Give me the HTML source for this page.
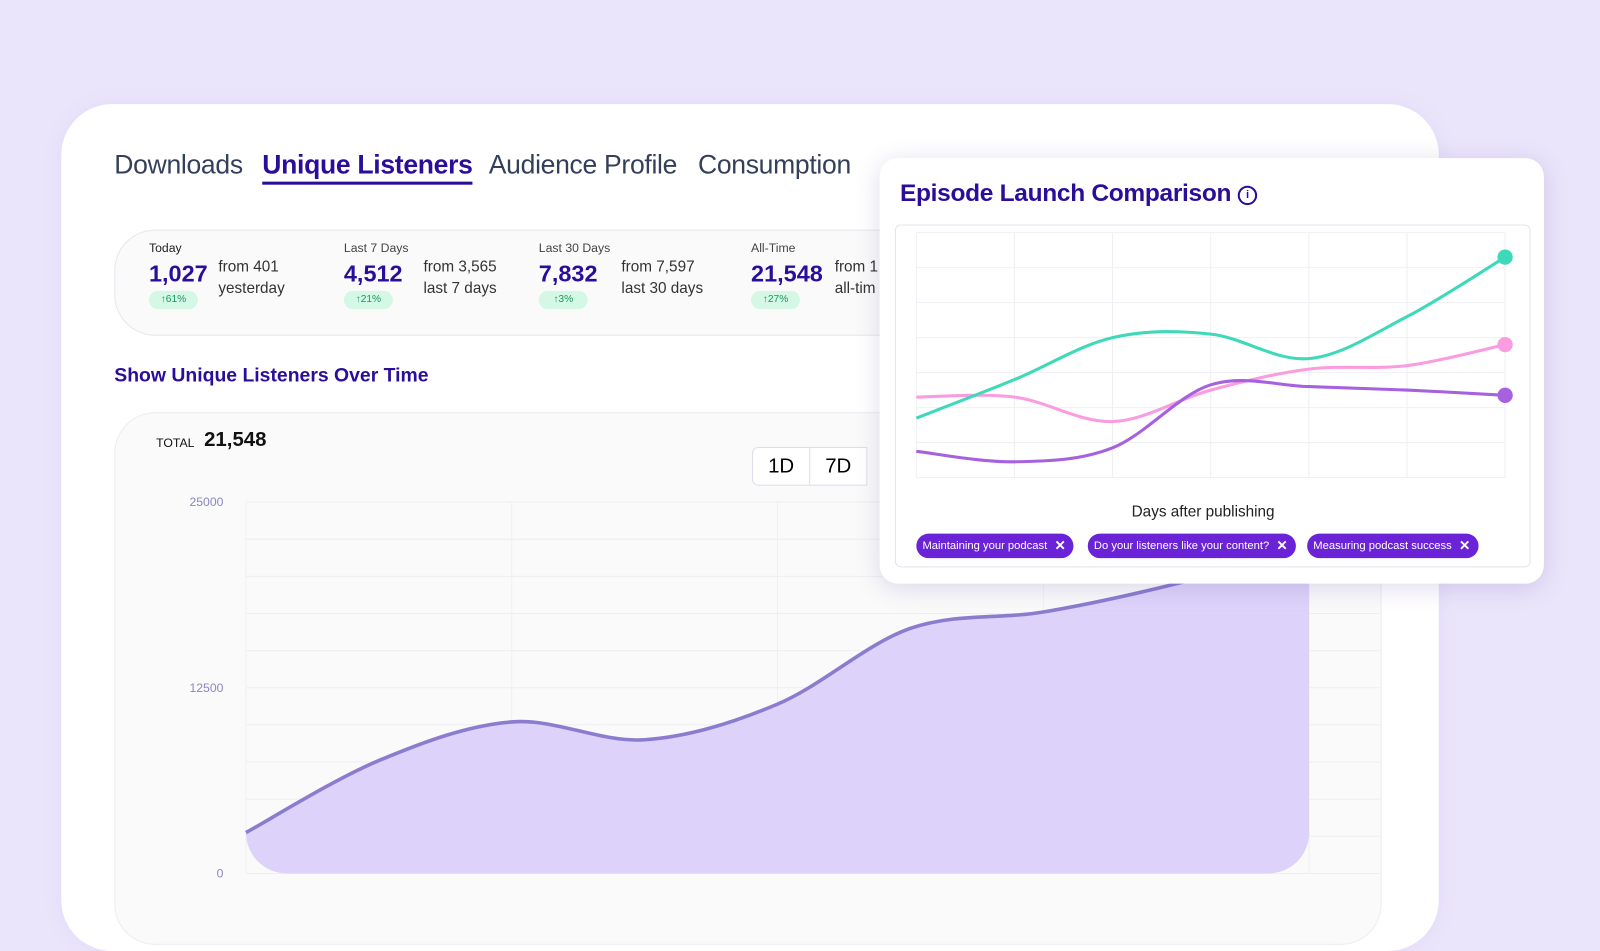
<!DOCTYPE html>
<html><head><meta charset="utf-8">
<style>
html,body{margin:0;padding:0;width:1600px;height:900px;overflow:hidden;background:#ebe5fb;font-family:"Liberation Sans",sans-serif;}
#wrap{position:absolute;left:0;top:0;width:1568px;height:882px;transform:scale(1.020408);transform-origin:0 0;}
.abs{position:absolute;}
.tab{position:absolute;top:146px;font-size:26px;color:#34405a;white-space:nowrap;letter-spacing:-0.3px}
.lbl{position:absolute;font-size:12px;color:#222;}
.big{position:absolute;font-size:23px;font-weight:bold;color:#2a0e9a;}
.from{position:absolute;font-size:15px;color:#333;line-height:21px;}
.pill{position:absolute;width:48px;height:18px;border-radius:9px;background:#d5f7e5;color:#159a5e;font-size:10px;text-align:center;line-height:18px;}
.tag{position:absolute;top:523px;height:24px;border-radius:12px;background:#6a23d6;color:#fff;font-size:11px;line-height:24px;padding:0 26px 0 6px;white-space:nowrap;}
.tag span{position:absolute;right:8px;top:0;font-size:13px;font-weight:bold}
</style></head><body>
<div id="wrap">
<div class="abs" style="left:60px;top:102px;width:1350px;height:830px;background:#fff;border-radius:50px;box-shadow:0 0 20px rgba(120,100,200,0.08)"></div>
<div class="tab" style="left:112px">Downloads</div>
<div class="tab" style="left:257px;color:#2a0e9a;font-weight:bold;border-bottom:3px solid #2a0e9a;padding-bottom:0;height:32px">Unique Listeners</div>
<div class="tab" style="left:479px">Audience Profile</div>
<div class="tab" style="left:684px">Consumption</div>

<div class="abs" style="left:112px;top:225px;width:820px;height:102px;border:1px solid #e6e6ee;border-radius:40px;background:#fafafa"></div>
<div class="lbl" style="left:146px;top:236px">Today</div>
<div class="big" style="left:146px;top:255px">1,027</div>
<div class="from" style="left:214px;top:251px">from 401<br>yesterday</div>
<div class="pill" style="left:146px;top:285px">↑61%</div>
<div class="lbl" style="left:337px;top:236px;color:#444">Last 7 Days</div>
<div class="big" style="left:337px;top:255px">4,512</div>
<div class="from" style="left:415px;top:251px">from 3,565<br>last 7 days</div>
<div class="pill" style="left:337px;top:285px">↑21%</div>
<div class="lbl" style="left:528px;top:236px;color:#444">Last 30 Days</div>
<div class="big" style="left:528px;top:255px">7,832</div>
<div class="from" style="left:609px;top:251px">from 7,597<br>last 30 days</div>
<div class="pill" style="left:528px;top:285px">↑3%</div>
<div class="lbl" style="left:736px;top:236px;color:#444">All-Time</div>
<div class="big" style="left:736px;top:255px">21,548</div>
<div class="from" style="left:818px;top:251px">from 1<br>all-tim</div>
<div class="pill" style="left:736px;top:285px">↑27%</div>

<div class="abs" style="left:112px;top:358px;font-size:19px;font-weight:bold;color:#2a0e9a">Show Unique Listeners Over Time</div>

<div class="abs" style="left:112px;top:404px;width:1240px;height:520px;border:1px solid #ececf2;border-radius:40px;background:#fafafa"></div>
<div class="abs" style="left:153px;top:427px;font-size:12px;color:#111">TOTAL</div>
<div class="abs" style="left:200px;top:420px;font-size:20px;font-weight:bold;color:#111">21,548</div>
<div class="abs" style="left:737px;top:438px;width:55px;height:36px;border:1px solid #dde;border-radius:6px 0 0 6px;background:#fff;font-size:20px;text-align:center;line-height:36px">1D</div>
<div class="abs" style="left:793px;top:438px;width:55px;height:36px;border:1px solid #dde;background:#fff;font-size:20px;text-align:center;line-height:36px">7D</div>

<svg class="abs" style="left:0;top:0" width="1568" height="882" id="mainsvg"></svg>

<div class="abs" style="left:862px;top:155px;width:651px;height:417px;background:#fff;border-radius:18px;box-shadow:0 4px 24px rgba(80,60,150,0.18)"></div>
<div class="abs" style="left:882px;top:176px;font-size:24px;font-weight:bold;color:#2a0e9a;letter-spacing:-0.3px">Episode Launch Comparison <span style="display:inline-block;width:15px;height:15px;border:2px solid #2a0e9a;border-radius:50%;font-size:11px;line-height:15px;text-align:center;vertical-align:3px">i</span></div>
<div class="abs" style="left:877px;top:220px;width:621px;height:334px;border:1px solid #e3e3ee;border-radius:6px"></div>
<svg class="abs" style="left:0;top:0" width="1568" height="882" id="cmpsvg"></svg>
<div class="abs" style="left:1109px;top:493px;font-size:15px;color:#222">Days after publishing</div>
<div class="tag" style="left:898px">Maintaining your podcast<span>✕</span></div>
<div class="tag" style="left:1066px">Do your listeners like your content?<span>✕</span></div>
<div class="tag" style="left:1281px">Measuring podcast success<span>✕</span></div>
</div>
<script>
const NS="http://www.w3.org/2000/svg";
// main chart data
const mainValues=[2750,7600,10200,9000,11400,16500,17600,19500,22000];
const mainTicks=[0,12500,25000];
// comparison data
const teal=[1.7,2.8,4.0,4.1,3.4,4.6,6.3];
const pink=[2.3,2.3,1.6,2.5,3.1,3.2,3.8];
const purple=[0.75,0.45,0.85,2.65,2.6,2.5,2.35];

function el(svg,tag,attrs){const e=document.createElementNS(NS,tag);for(const k in attrs)e.setAttribute(k,attrs[k]);svg.appendChild(e);return e;}
function smooth(pts){let d="M"+pts[0][0]+","+pts[0][1];for(let i=0;i<pts.length-1;i++){const p0=pts[i-1]||pts[i],p1=pts[i],p2=pts[i+1],p3=pts[i+2]||p2;const c1x=p1[0]+(p2[0]-p0[0])/6,c1y=p1[1]+(p2[1]-p0[1])/6,c2x=p2[0]-(p3[0]-p1[0])/6,c2y=p2[1]-(p3[1]-p1[1])/6;d+=` C${c1x},${c1y} ${c2x},${c2y} ${p2[0]},${p2[1]}`;}return d;}

// main chart
const ms=document.getElementById('mainsvg');
const X0=241,X1=1283,Y0=856,Y1=492,YMAX=25000;
const mx=i=>X0+i*(X1-X0)/(mainValues.length-1);
const my=v=>Y0-v/YMAX*(Y0-Y1);
for(let k=0;k<=10;k++){const g=el(ms,'line',{x1:X0,x2:1352,y1:Y1+k*(Y0-Y1)/10,y2:Y1+k*(Y0-Y1)/10,stroke:'#eeeef3','stroke-width':1});}
for(let k=0;k<=4;k++){const g=el(ms,'line',{x1:X0+k*260.5,x2:X0+k*260.5,y1:Y1,y2:Y0,stroke:'#f0f0f4'});}
mainTicks.forEach(t=>{const tx=el(ms,'text',{x:219,y:my(t)+4,'text-anchor':'end','font-size':12,fill:'#8a88c0','font-family':'Liberation Sans'});tx.textContent=t;});
const mpts=mainValues.map((v,i)=>[mx(i),my(v)]);
const defs=el(ms,'defs',{});const cp=el(defs,'clipPath',{id:'mclip'});el(cp,'rect',{x:X0,y:0,width:X1-X0,height:Y0,rx:40});
const lineD=smooth(mpts);
const area=el(ms,'path',{d:lineD+` L${X1},${Y0+40} L${X0},${Y0+40} Z`,fill:'#ddd3fa','clip-path':'url(#mclip)'});

const ml=el(ms,'path',{d:lineD,fill:'none',stroke:'#8b7cd0','stroke-width':3.5});


// comparison chart
const cs=document.getElementById('cmpsvg');
const CX0=898,CX1=1475,CY0=468,CY1=228,CMAX=7;
const cx=i=>CX0+i*(CX1-CX0)/6;
const cy=v=>CY0-v/CMAX*(CY0-CY1);
for(let k=0;k<=7;k++){const g=el(cs,'line',{x1:CX0,x2:CX1,y1:cy(k),y2:cy(k),stroke:'#efeff4'});}
for(let k=0;k<=6;k++){const g=el(cs,'line',{x1:cx(k),x2:cx(k),y1:CY1,y2:CY0,stroke:'#efeff4'});}
[[pink,'#fb9be0','pink-series'],[purple,'#a661de','purple-series'],[teal,'#3dd9b8','teal-series']].forEach(([arr,col,name])=>{
 const pts=arr.map((v,i)=>[cx(i),cy(v)]);
 const p=el(cs,'path',{d:smooth(pts),fill:'none',stroke:col,'stroke-width':3});
 
 const last=pts[pts.length-1];
 const c=el(cs,'circle',{cx:last[0],cy:last[1],r:7.5,fill:col});
 
});
</script>
</body></html>
